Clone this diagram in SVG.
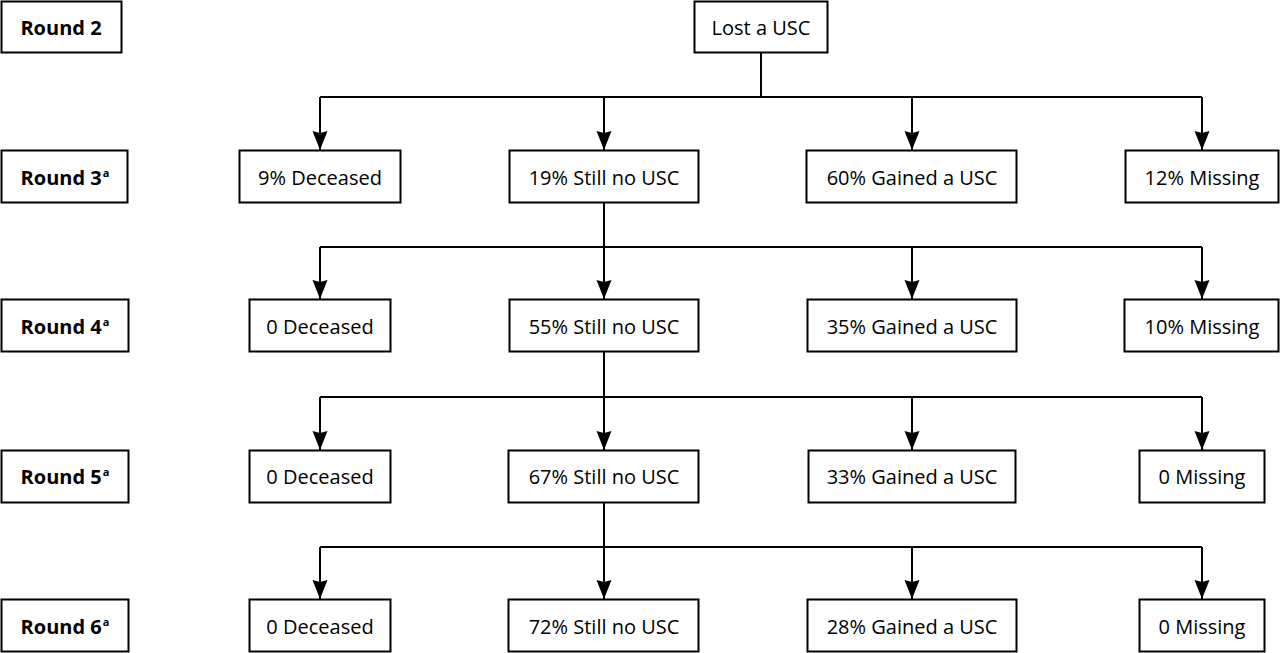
<svg xmlns="http://www.w3.org/2000/svg" width="1280" height="653" viewBox="0 0 1280 653">
<style>
.box{fill:#fff;stroke:#000;stroke-width:2}
.t{font-family:"Open Sans","Noto Sans","Liberation Sans",sans-serif;font-size:20px;fill:#000;text-anchor:middle}
.b{font-weight:bold}
.sup{font-size:11px}
.ln{fill:none;stroke:#000;stroke-width:2}
.ar{fill:none;stroke:#000;stroke-width:2;marker-end:url(#ah)}
.head{fill:#000;stroke:none}
</style>
<defs>
<marker id="ah" markerUnits="userSpaceOnUse" markerWidth="22" markerHeight="18" viewBox="-20 -9 22 18" refX="0" refY="0" orient="auto">
<path class="head" d="M0,0 L-19,-7.5 L-17,0 L-19,7.5 Z"/>
</marker>
</defs>
<g id="connectors">
<path class="ln" d="M761,53 V97 M320,97 H1202"/>
<path class="ar" d="M320,97 V150"/>
<path class="ar" d="M604,97 V150"/>
<path class="ar" d="M912,97 V150"/>
<path class="ar" d="M1202,97 V150"/>
<path class="ln" d="M604,203 V247 M320,247 H1202"/>
<path class="ar" d="M320,247 V299"/>
<path class="ar" d="M604,247 V299"/>
<path class="ar" d="M912,247 V299"/>
<path class="ar" d="M1202,247 V299"/>
<path class="ln" d="M604,352 V397 M320,397 H1202"/>
<path class="ar" d="M320,397 V450"/>
<path class="ar" d="M604,397 V450"/>
<path class="ar" d="M912,397 V450"/>
<path class="ar" d="M1202,397 V450"/>
<path class="ln" d="M604,503 V547 M320,547 H1202"/>
<path class="ar" d="M320,547 V599"/>
<path class="ar" d="M604,547 V599"/>
<path class="ar" d="M912,547 V599"/>
<path class="ar" d="M1202,547 V599"/>
</g>
<g id="round2"><rect class="box" x="1.5" y="1.5" width="120" height="51"/><text class="t b" x="61" y="35">Round 2</text></g>
<g id="lost"><rect class="box" x="694.5" y="1.5" width="133" height="51"/><text class="t" x="761" y="35">Lost a USC</text></g>

<g id="round3"><rect class="box" x="1.5" y="150.5" width="126" height="52"/><text class="t b" x="65" y="185">Round 3<tspan class="sup" dx="1" dy="-8">a</tspan></text></g>
<g id="r3-deceased"><rect class="box" x="239.5" y="150.5" width="161" height="52"/><text class="t" x="320" y="185">9% Deceased</text></g>
<g id="r3-still"><rect class="box" x="509.5" y="150.5" width="189" height="52"/><text class="t" x="604" y="185">19% Still no USC</text></g>
<g id="r3-gained"><rect class="box" x="806.5" y="150.5" width="210" height="52"/><text class="t" x="912" y="185">60% Gained a USC</text></g>
<g id="r3-missing"><rect class="box" x="1125.5" y="150.5" width="153" height="52"/><text class="t" x="1202" y="185">12% Missing</text></g>

<g id="round4"><rect class="box" x="1.5" y="299.5" width="127" height="52"/><text class="t b" x="65" y="334">Round 4<tspan class="sup" dx="1" dy="-8">a</tspan></text></g>
<g id="r4-deceased"><rect class="box" x="249.5" y="299.5" width="141" height="52"/><text class="t" x="320" y="334">0 Deceased</text></g>
<g id="r4-still"><rect class="box" x="509.5" y="299.5" width="189" height="52"/><text class="t" x="604" y="334">55% Still no USC</text></g>
<g id="r4-gained"><rect class="box" x="807.5" y="299.5" width="209" height="52"/><text class="t" x="912" y="334">35% Gained a USC</text></g>
<g id="r4-missing"><rect class="box" x="1124.5" y="299.5" width="154" height="52"/><text class="t" x="1202" y="334">10% Missing</text></g>

<g id="round5"><rect class="box" x="1.5" y="450.5" width="127" height="52"/><text class="t b" x="65" y="484">Round 5<tspan class="sup" dx="1" dy="-8">a</tspan></text></g>
<g id="r5-deceased"><rect class="box" x="249.5" y="450.5" width="141" height="52"/><text class="t" x="320" y="484">0 Deceased</text></g>
<g id="r5-still"><rect class="box" x="508.5" y="450.5" width="190" height="52"/><text class="t" x="604" y="484">67% Still no USC</text></g>
<g id="r5-gained"><rect class="box" x="808.5" y="450.5" width="207" height="52"/><text class="t" x="912" y="484">33% Gained a USC</text></g>
<g id="r5-missing"><rect class="box" x="1139.5" y="450.5" width="125" height="52"/><text class="t" x="1202" y="484">0 Missing</text></g>

<g id="round6"><rect class="box" x="1.5" y="599.5" width="127" height="52"/><text class="t b" x="65" y="634">Round 6<tspan class="sup" dx="1" dy="-8">a</tspan></text></g>
<g id="r6-deceased"><rect class="box" x="249.5" y="599.5" width="141" height="52"/><text class="t" x="320" y="634">0 Deceased</text></g>
<g id="r6-still"><rect class="box" x="508.5" y="599.5" width="190" height="52"/><text class="t" x="604" y="634">72% Still no USC</text></g>
<g id="r6-gained"><rect class="box" x="807.5" y="599.5" width="209" height="52"/><text class="t" x="912" y="634">28% Gained a USC</text></g>
<g id="r6-missing"><rect class="box" x="1139.5" y="599.5" width="125" height="52"/><text class="t" x="1202" y="634">0 Missing</text></g>
</svg>
